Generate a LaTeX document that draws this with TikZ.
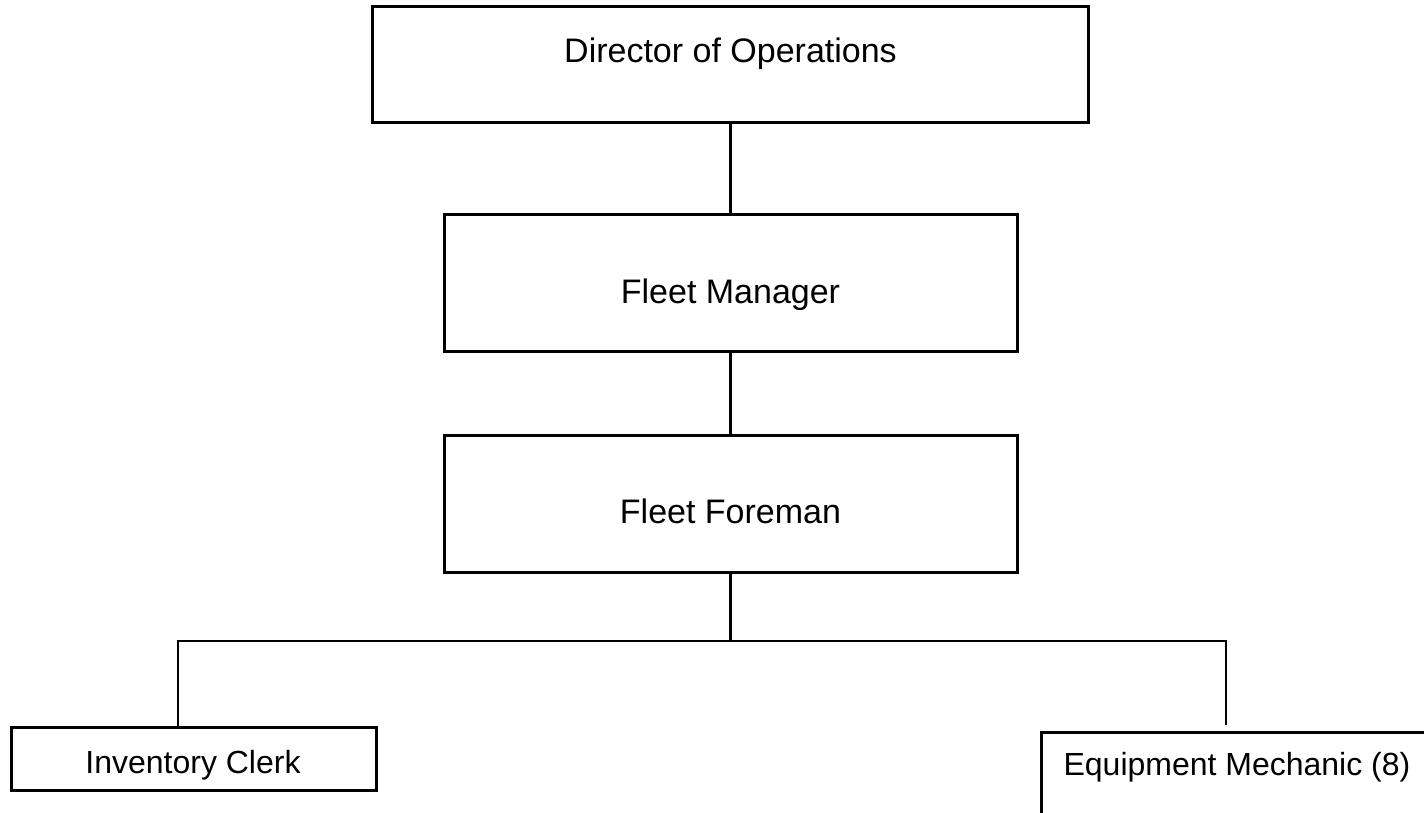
\documentclass[tikz,border=0pt]{standalone}
\usepackage{fontspec}
\setmainfont{Liberation Sans}
\begin{document}
\begin{tikzpicture}[x=1pt,y=-1pt,
  box/.style={draw=black, line width=3pt, rectangle, inner sep=0pt, fill=white},
  wire/.style={draw=black, line width=2.6pt},
  bigtxt/.style={anchor=base, inner sep=0pt, font=\fontsize{34}{40}\selectfont},
  smalltxt/.style={anchor=base, inner sep=0pt, font=\fontsize{32}{38}\selectfont}]
  \useasboundingbox (0,0) rectangle (1424,812);
  \clip (0,0) rectangle (1424,812);
  \fill[white] (0,0) rectangle (1424,812);

  % boxes
  \node[box, minimum width=716pt, minimum height=116pt] (dir) at (730.5,64) {};
  \node[box, minimum width=573pt, minimum height=137pt] (fm) at (730.5,282.5) {};
  \node[box, minimum width=573pt, minimum height=137pt] (ff) at (730.5,503.5) {};
  \node[box, minimum width=365pt, minimum height=63pt] (ic) at (193.5,758.5) {};
  \node[box, minimum width=420pt, minimum height=120pt] (em) at (1251,792) {};

  % titles
  \node[bigtxt] (dirtext) at (730.5,62) {Director of Operations};
  \node[bigtxt] (fmtext) at (730.5,303) {Fleet Manager};
  \node[bigtxt] (fftext) at (730.5,523) {Fleet Foreman};
  \node[smalltxt] (ictext) at (193,773) {Inventory Clerk};
  \node[smalltxt] (emtext) at (1237,775) {Equipment Mechanic (8)};

  % connectors
  \coordinate (bus) at (730.5,641);
  \coordinate (busL) at (178,641);
  \coordinate (busR) at (1226,641);
  \coordinate (emtop) at (1226,725);
  \draw[wire] (dir.south) -- (fm.north);
  \draw[wire] (fm.south) -- (ff.north);
  \draw[wire] (ff.south) -- (bus);
  \draw[wire, line cap=rect] (busL) -- (busR);
  \draw[wire] (busL) -- (busL |- ic.north);
  \draw[wire] (busR) -- (emtop);
\end{tikzpicture}
\end{document}
